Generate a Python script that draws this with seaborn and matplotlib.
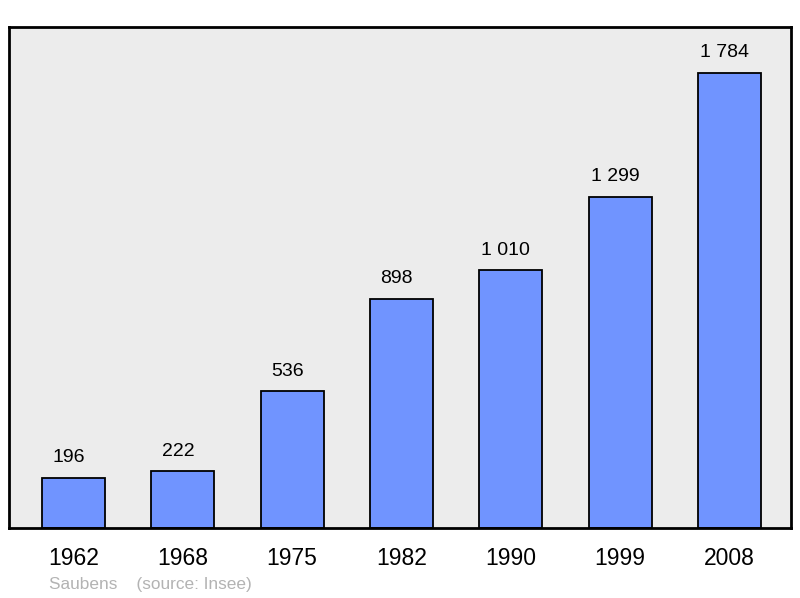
import pandas as pd
import matplotlib
matplotlib.use("Agg")
import matplotlib.pyplot as plt
import seaborn as sns

# data
years = ["1962", "1968", "1975", "1982", "1990", "1999", "2008"]
population = [196, 222, 536, 898, 1010, 1299, 1784]
labels = ["196", "222", "536", "898", "1 010", "1 299", "1 784"]

df = pd.DataFrame({"annee": years, "pop": population})

sns.set_style("white")
plt.rcParams["font.family"] = ["Liberation Sans", "DejaVu Sans"]

fig = plt.figure(figsize=(8, 5.98), dpi=100)
ax = fig.add_axes([9 / 800, 1 - 528 / 598, 782 / 800, 501 / 598])
ax.set_facecolor("#ececec")

sns.barplot(data=df, x="annee", y="pop", color="#7094ff", saturation=1,
            width=0.576, edgecolor="black", linewidth=1.3, ax=ax)

# valeurs au-dessus des barres (légèrement décalées à gauche comme l'original)
for i, (v, lab) in enumerate(zip(population, labels)):
    ax.annotate(lab, (i, v), xytext=(-3.6, 14.5), textcoords="offset points",
                ha="center", va="center", fontsize=14, color="black")

ax.set_xlim(-0.59, 6.563)
ax.set_ylim(0, 1964)
ax.set_yticks([])
ax.set_xlabel("")
ax.set_ylabel("")
ax.tick_params(axis="x", length=0, labelsize=16.5, pad=14, labelcolor="black")
for s in ax.spines.values():
    s.set_visible(True)
    s.set_color("black")
    s.set_linewidth(2)

fig.text(49 / 800, 1 - 584 / 598, "Saubens    (source: Insee)", fontsize=12.4,
         color="#b3b3b3", ha="left", va="center")

fig.savefig("out.png", dpi=100)
